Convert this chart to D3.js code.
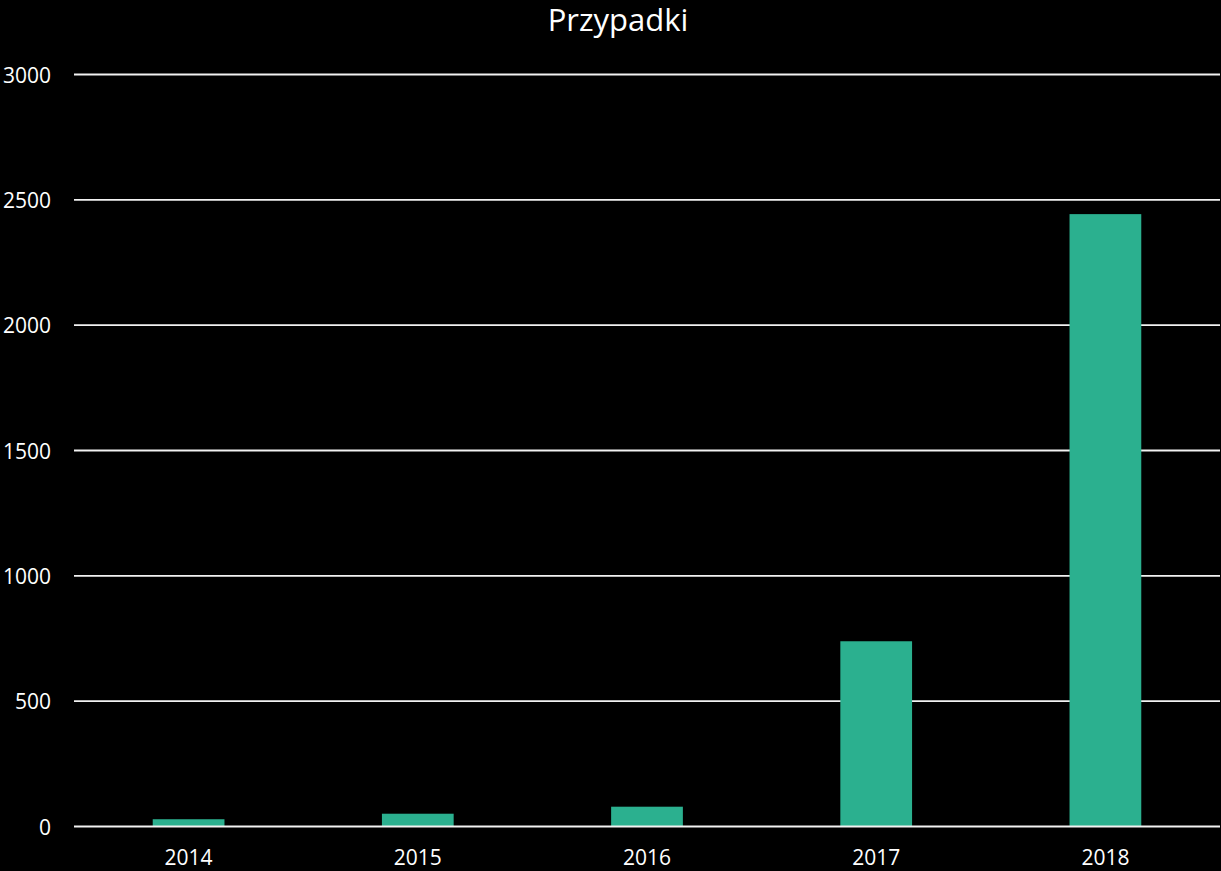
<html>
<script src='https://d3js.org/d3.v7.min.js'></script>
<style>
  body {margin: 0; background: #000;}
  text {font-family: 'Open Sans', sans-serif; fill: #fff;}
</style>
<body onload='init()'>
<svg width=1221 height=871></svg>
<script>
var years = ["2014", "2015", "2016", "2017", "2018"];
var cases = [29, 51, 79, 739, 2443];
var yTicks = [0, 500, 1000, 1500, 2000, 2500, 3000];

function init() {
    var svg = d3.select("svg");
    svg.append("rect").attr("width", 1221).attr("height", 871).attr("fill", "#000");

    var left = 74, right = 1220, top = 74.5, bottom = 826.5;

    var x = d3.scaleBand(years, [left, right])
              .paddingInner(0.687)
              .paddingOuter(0.687 / 2);
    var y = d3.scaleLinear([0, 3000], [bottom, top]);

    // gridlines (except zero, drawn later on top)
    svg.append("g").selectAll("line")
        .data(yTicks.filter(d => d > 0))
        .enter().append("line")
        .attr("x1", left).attr("x2", right)
        .attr("y1", d => y(d)).attr("y2", d => y(d))
        .attr("stroke", "#f2f2f2").attr("stroke-width", 1.8);

    // bars
    svg.append("g").selectAll("rect")
        .data(years)
        .enter().append("rect")
        .attr("x", d => x(d))
        .attr("width", x.bandwidth())
        .attr("y", (d, i) => y(cases[i]))
        .attr("height", (d, i) => y(0) - y(cases[i]))
        .attr("fill", "#2bb08f");

    svg.append("line")
        .attr("x1", left).attr("x2", right)
        .attr("y1", y(0)).attr("y2", y(0))
        .attr("stroke", "#f2f2f2").attr("stroke-width", 1.8);

    // y axis labels
    var yAxis = d3.axisLeft(y).tickValues(yTicks).tickFormat(d3.format("d"))
                  .tickSize(0).tickPadding(0);
    var gy = svg.append("g").attr("transform", "translate(51,0)").call(yAxis);
    gy.select(".domain").remove();
    gy.selectAll("text").attr("font-size", 21).attr("font-family", "'Open Sans', sans-serif")
        .attr("fill", "#fff").attr("dy", "0.36em");

    // x axis labels
    var xAxis = d3.axisBottom(x).tickSize(0).tickPadding(0);
    var gx = svg.append("g").call(xAxis);
    gx.select(".domain").remove();
    gx.selectAll("text").attr("font-size", 21).attr("font-family", "'Open Sans', sans-serif")
        .attr("fill", "#fff").attr("y", 865).attr("dy", 0);

    svg.append("text")
        .attr("x", 618).attr("y", 31)
        .attr("text-anchor", "middle")
        .attr("font-size", 31)
        .text("Przypadki");
}
</script>
</body>
</html>
